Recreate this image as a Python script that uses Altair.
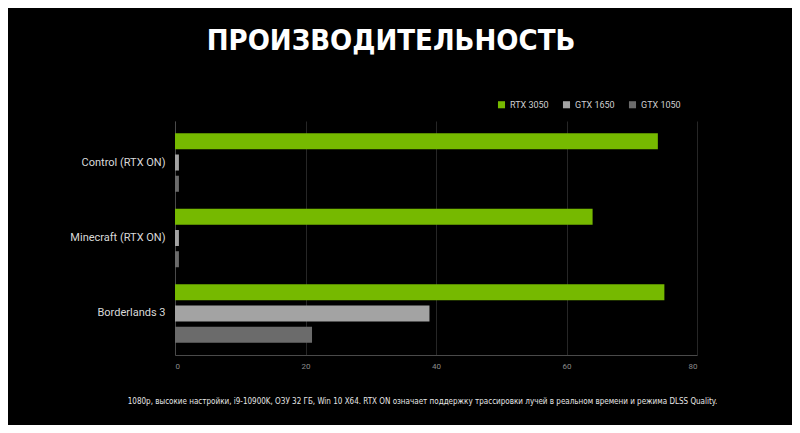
import altair as alt
import pandas as pd

games = ["Control (RTX ON)", "Minecraft (RTX ON)", "Borderlands 3"]
gpus = ["RTX 3050", "GTX 1650", "GTX 1050"]
rtx3050 = [74, 64, 75]
gtx1650 = [0.6, 0.6, 39]
gtx1050 = [0.6, 0.6, 21]
colors = ["#76b900", "#a3a3a3", "#6b6b6b"]
x_ticks = [0, 20, 40, 60, 80]

title_text = "ПРОИЗВОДИТЕЛЬНОСТЬ"
footnote = ("1080p, высокие настройки, i9-10900K, ОЗУ 32 ГБ, Win 10 X64. RTX ON означает поддержку "
            "трассировки лучей в реальном времени и режима DLSS Quality.")

rows = []
for gpu, vals in zip(gpus, [rtx3050, gtx1650, gtx1050]):
    for g, v in zip(games, vals):
        rows.append({"game": g, "gpu": gpu, "fps": v})
df = pd.DataFrame(rows)

cond = "DejaVu Sans Condensed, Roboto"

chart = alt.Chart(df).mark_bar().encode(
    x=alt.X("fps:Q",
            scale=alt.Scale(domain=[0, 80], nice=False),
            axis=alt.Axis(values=x_ticks, grid=True, gridColor="#262626", gridWidth=1,
                          domainColor="#4a4a4a", ticks=False, labelColor="#8a8a8a",
                          labelFontSize=8, labelPadding=7, labelFont="Roboto",
                          title=footnote, titleFont=cond,
                          titleFontSize=8, titleFontWeight="normal", titleColor="#e6e6e6",
                          titleX=247, titleY=42, titleAlign="center")),
    y=alt.Y("game:N", sort=games,
            scale=alt.Scale(paddingInner=0, paddingOuter=0.05),
            axis=alt.Axis(title=None, ticks=False, domainColor="#4a4a4a", labelColor="#d9d9d9",
                          labelFontSize=11, labelFont="Roboto", labelPadding=10)),
    yOffset=alt.YOffset("gpu:N", sort=gpus,
                        scale=alt.Scale(paddingInner=0.245, paddingOuter=0.4)),
    color=alt.Color("gpu:N", sort=gpus,
                    scale=alt.Scale(domain=gpus, range=colors),
                    legend=alt.Legend(title=None, orient="none", direction="horizontal",
                                      legendX=322, legendY=-21, symbolType="square",
                                      symbolSize=50, symbolStrokeWidth=0, labelColor="#cfcfcf",
                                      labelFontSize=9, labelFont="Roboto", columnPadding=13,
                                      symbolOpacity=1)),
).properties(
    width=522,
    height=234,
    background="black",
    padding={"left": 167, "top": 113, "right": 95, "bottom": 70},
    autosize=alt.AutoSizeParams(type="none"),
    title=alt.TitleParams(title_text, font=cond, fontSize=29,
                          fontWeight="bold", color="white", anchor="middle",
                          dx=-45, offset=44),
).configure_view(stroke=None).configure_bar(stroke=None)

chart.save("out.html", embed_options={"renderer": "svg", "actions": False})
